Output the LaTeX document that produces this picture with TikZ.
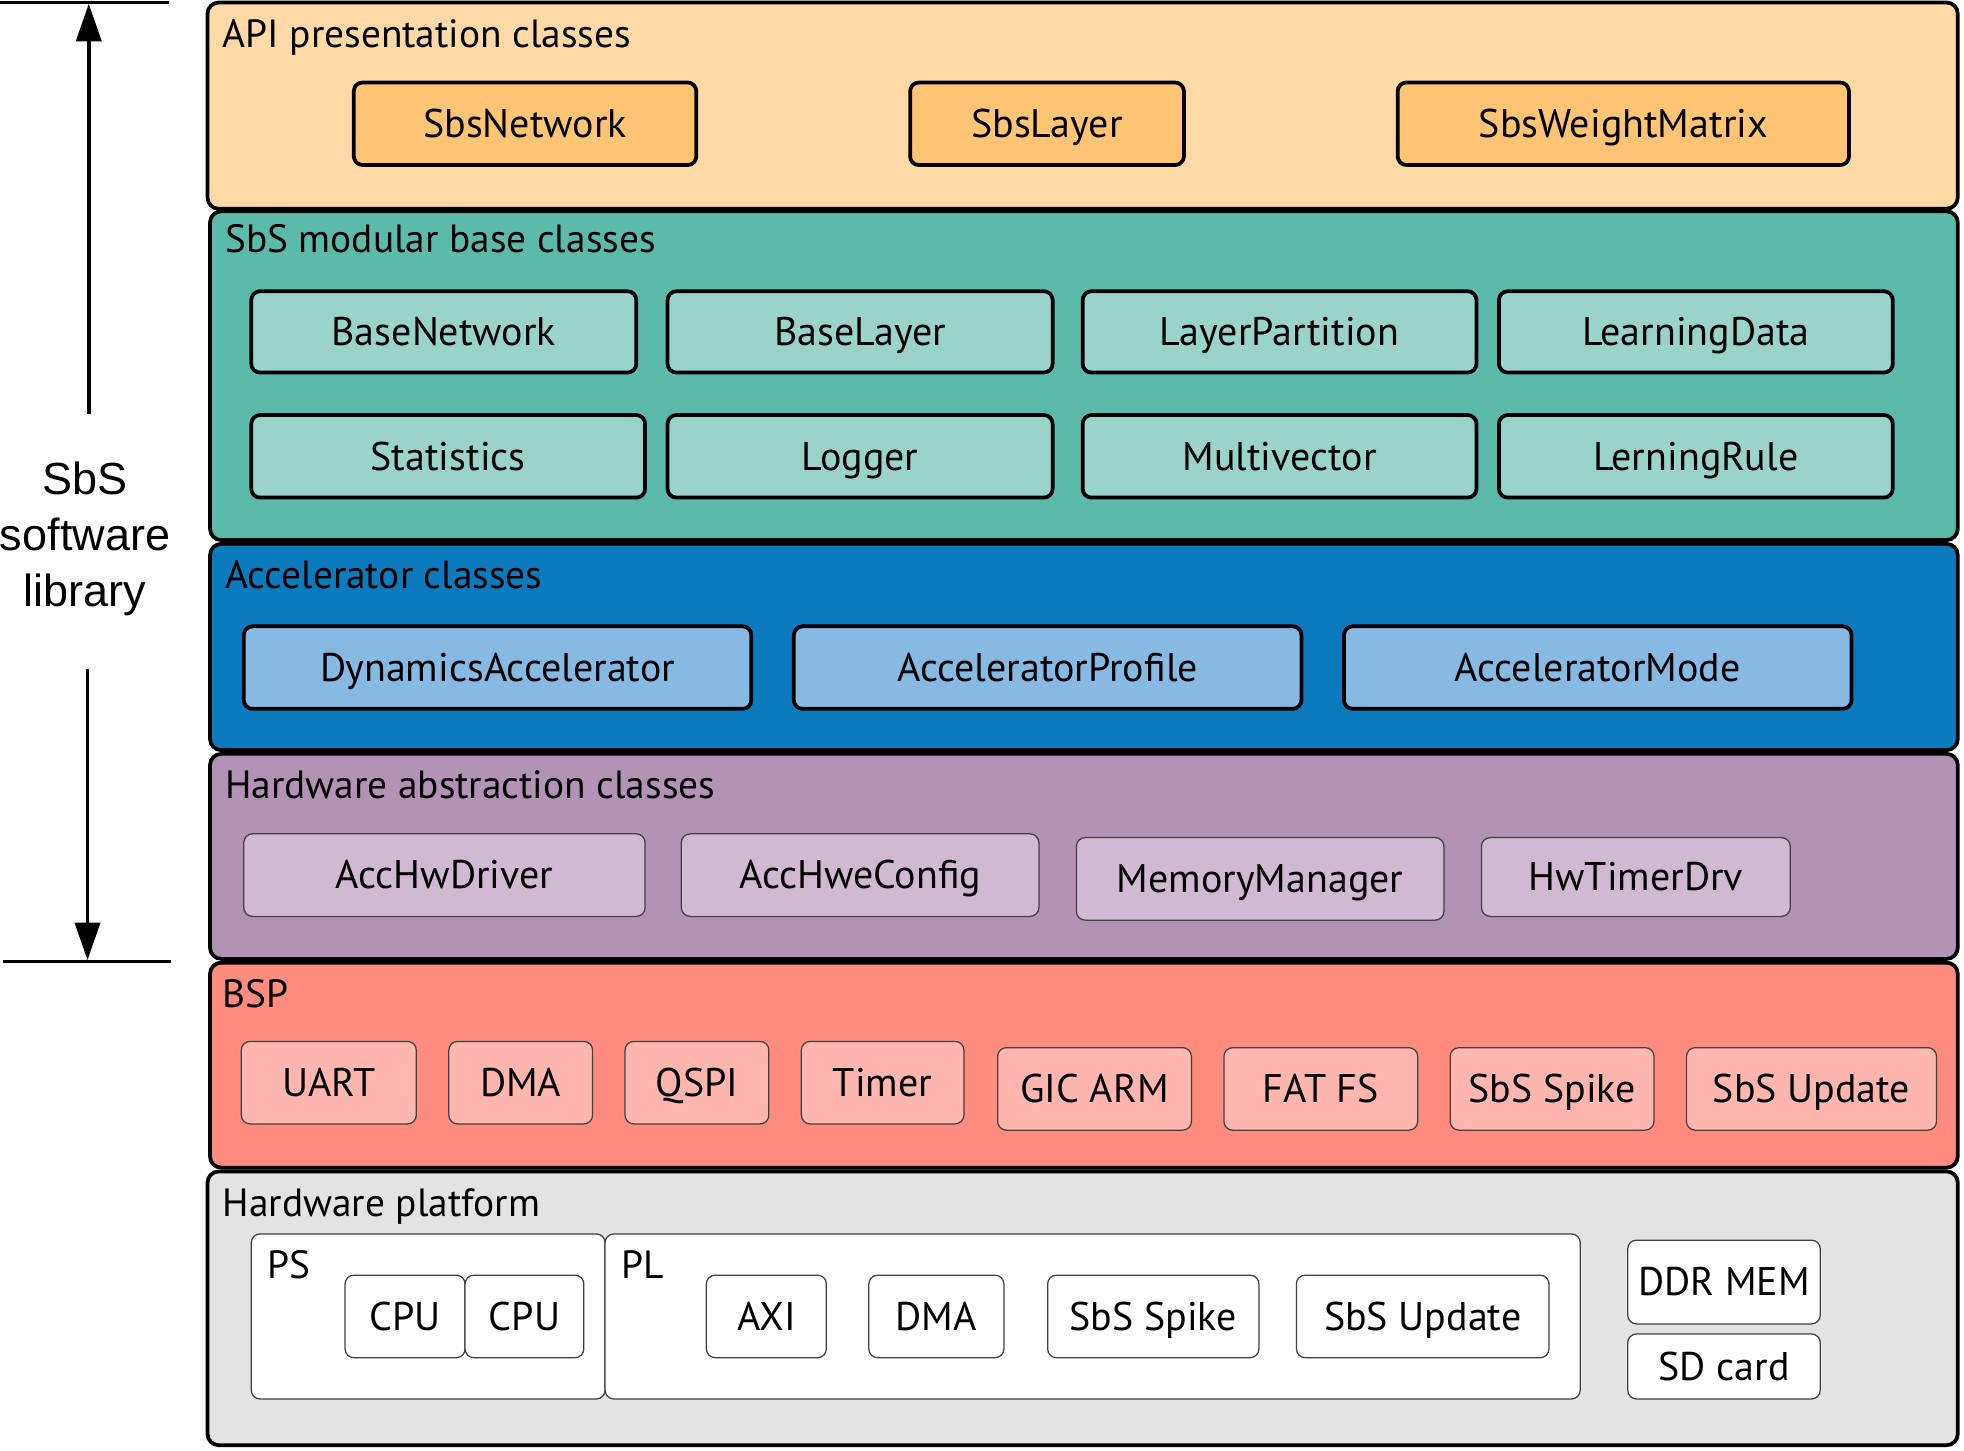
\documentclass[tikz,border=0pt]{standalone}
\usepackage{fontspec}
\setmainfont{PT Sans}
\newfontfamily\arialf{Liberation Sans}
\usetikzlibrary{arrows.meta}
\definecolor{apibg}{HTML}{FFD9A6}
\definecolor{apibx}{HTML}{FFC574}
\definecolor{sbsbg}{HTML}{5BBBA8}
\definecolor{sbsbx}{HTML}{9AD4C8}
\definecolor{accbg}{HTML}{0C7BBE}
\definecolor{accbx}{HTML}{87BAE3}
\definecolor{hwabg}{HTML}{B393B5}
\definecolor{hwabx}{HTML}{D0BAD1}
\definecolor{bspbg}{HTML}{FF8C7E}
\definecolor{bspbx}{HTML}{FFB6AF}
\definecolor{platbg}{HTML}{E3E3E3}
\newcommand\txtf{\fontsize{31.5}{37}\selectfont}
\newcommand\bxf{\fontsize{32}{38}\selectfont}
\newcommand\bx[7]{\node[#2, minimum width={(#5-#3)*1pt}, minimum height={(#6-#4)*1pt}] (#1) at ({(#3+#5)/2},{(#4+#6)/2}) {#7};}
\begin{document}
\begin{tikzpicture}[x=1pt,y=-1pt,
  layer/.style={draw=black, line width=3pt, rounded corners=9pt, inner sep=0pt},
  bigbox/.style={draw=black, line width=3pt, rounded corners=7pt, font=\bxf, inner sep=0pt, text height=22pt, text depth=0pt},
  thinbox/.style={draw=black!75, line width=1pt, rounded corners=7pt, font=\bxf, inner sep=0pt, text height=22pt, text depth=0pt},
  ttl/.style={anchor=base west, font=\txtf, inner sep=0pt},
  arr/.style={line width=3pt, -{Triangle[length=30pt, width=20pt]}},
  hline/.style={line width=3pt}]
\useasboundingbox (0,0) rectangle (1571,1160);
% layers
\bx{L1}{layer, fill=apibg}{166}{2}{1566}{167}{}
\bx{L2}{layer, fill=sbsbg}{168}{169}{1566}{432}{}
\bx{L3}{layer, fill=accbg}{168}{435}{1566}{600}{}
\bx{L4}{layer, fill=hwabg}{168}{603}{1566}{767}{}
\bx{L5}{layer, fill=bspbg}{168}{770}{1566}{934}{}
\bx{L6}{layer, fill=platbg}{166}{937}{1566}{1156}{}
% titles
\node[ttl] (t1) at (178,38) {API presentation classes};
\node[ttl] (t2) at (180,202) {SbS modular base classes};
\node[ttl] (t3) at (180,471) {Accelerator classes};
\node[ttl] (t4) at (180,639) {Hardware abstraction classes};
\node[ttl] (t5) at (178,806) {BSP};
\node[ttl] (t6) at (178,973) {Hardware platform};
% API
\bx{a1}{bigbox, fill=apibx}{283}{66}{557}{132}{SbsNetwork}
\bx{a2}{bigbox, fill=apibx}{728}{66}{947}{132}{SbsLayer}
\bx{a3}{bigbox, fill=apibx}{1118}{66}{1479}{132}{SbsWeightMatrix}
% SbS modular
\bx{m1}{bigbox, fill=sbsbx}{201}{233}{509}{298}{BaseNetwork}
\bx{m2}{bigbox, fill=sbsbx}{534}{233}{842}{298}{BaseLayer}
\bx{m3}{bigbox, fill=sbsbx}{866}{233}{1181}{298}{LayerPartition}
\bx{m4}{bigbox, fill=sbsbx}{1199}{233}{1514}{298}{LearningData}
\bx{m5}{bigbox, fill=sbsbx}{201}{332}{516}{398}{Statistics}
\bx{m6}{bigbox, fill=sbsbx}{534}{332}{842}{398}{Logger}
\bx{m7}{bigbox, fill=sbsbx}{866}{332}{1181}{398}{Multivector}
\bx{m8}{bigbox, fill=sbsbx}{1199}{332}{1514}{398}{LerningRule}
% Accelerator
\bx{c1}{bigbox, fill=accbx}{195}{501}{601}{567}{DynamicsAccelerator}
\bx{c2}{bigbox, fill=accbx}{635}{501}{1041}{567}{AcceleratorProfile}
\bx{c3}{bigbox, fill=accbx}{1075}{501}{1481}{567}{AcceleratorMode}
% HW abstraction
\bx{h1}{thinbox, fill=hwabx}{195}{667}{516}{733}{AccHwDriver}
\bx{h2}{thinbox, fill=hwabx}{545}{667}{831}{733}{AccHweConfig}
\bx{h3}{thinbox, fill=hwabx}{861}{670}{1155}{736}{MemoryManager}
\bx{h4}{thinbox, fill=hwabx}{1185}{670}{1432}{733}{HwTimerDrv}
% BSP
\bx{b1}{thinbox, fill=bspbx}{193}{833}{333}{899}{UART}
\bx{b2}{thinbox, fill=bspbx}{359}{833}{474}{899}{DMA}
\bx{b3}{thinbox, fill=bspbx}{500}{833}{615}{899}{QSPI}
\bx{b4}{thinbox, fill=bspbx}{641}{833}{771}{899}{Timer}
\bx{b5}{thinbox, fill=bspbx}{798}{838}{953}{904}{GIC ARM}
\bx{b6}{thinbox, fill=bspbx}{979}{838}{1134}{904}{FAT FS}
\bx{b7}{thinbox, fill=bspbx}{1160}{838}{1323}{904}{SbS Spike}
\bx{b8}{thinbox, fill=bspbx}{1349}{838}{1549}{904}{SbS Update}
% HW platform
\bx{ps}{thinbox, fill=white}{201}{987}{484}{1119}{}
\bx{pl}{thinbox, fill=white}{484}{987}{1264}{1119}{}
\node[ttl] (pst) at (214,1023) {PS};
\node[ttl] (plt) at (497,1023) {PL};
\bx{p1}{thinbox, fill=white}{276}{1020}{372}{1086}{CPU}
\bx{p2}{thinbox, fill=white}{372}{1020}{467}{1086}{CPU}
\bx{p3}{thinbox, fill=white}{565}{1020}{661}{1086}{AXI}
\bx{p4}{thinbox, fill=white}{695}{1020}{803}{1086}{DMA}
\bx{p5}{thinbox, fill=white}{838}{1020}{1007}{1086}{SbS Spike}
\bx{p6}{thinbox, fill=white}{1037}{1020}{1239}{1086}{SbS Update}
\bx{p7}{thinbox, fill=white}{1302}{992}{1456}{1059}{DDR MEM}
\bx{p8}{thinbox, fill=white}{1302}{1067}{1456}{1119}{SD card}
% left annotation
\coordinate (tl1) at (0,2);
\coordinate (tl2) at (135,2);
\coordinate (bl1) at (2,769);
\coordinate (bl2) at (137,769);
\coordinate (upS) at (71,331);
\coordinate (upE) at (71,3);
\coordinate (dnS) at (70,535);
\coordinate (dnE) at (70,768);
\draw[hline] (tl1) -- (tl2);
\draw[hline] (bl1) -- (bl2);
\draw[arr] (upS) -- (upE);
\draw[arr] (dnS) -- (dnE);
\node[align=center, font=\arialf\fontsize{36}{45}\selectfont, inner sep=0pt] (lib) at (68,431) {SbS\\software\\library};
\end{tikzpicture}
\end{document}
